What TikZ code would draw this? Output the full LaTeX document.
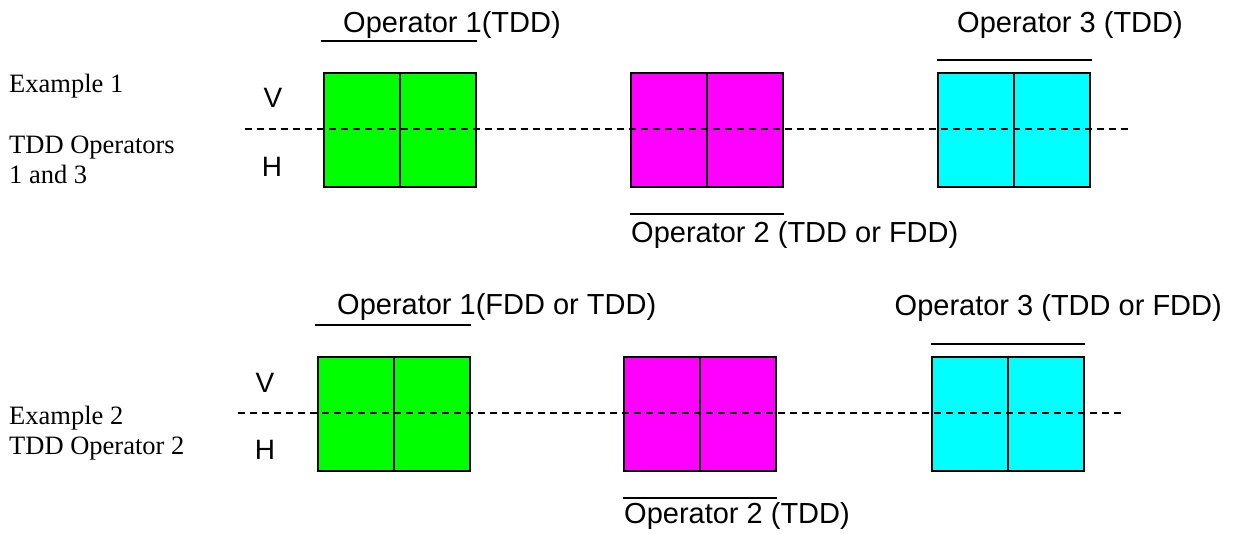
\documentclass[tikz,border=0pt]{standalone}
\usepackage{fontspec}
\setmainfont{Liberation Serif}
\newfontfamily\arialf{Liberation Sans}
\definecolor{opgreen}{RGB}{0,255,0}
\definecolor{opmag}{RGB}{255,0,255}
\definecolor{opcyan}{RGB}{0,255,255}
\begin{document}
\begin{tikzpicture}[x=1pt,y=-1pt,
  opbox/.style={draw=black, line width=2pt, minimum width=152pt, minimum height=114pt, inner sep=0pt},
  lbl/.style={font=\arialf\fontsize{29}{34}\selectfont, inner sep=0pt},
  vh/.style={font=\arialf\fontsize{28}{34}\selectfont, inner sep=0pt, anchor=base},
  side/.style={font=\fontsize{26.5}{30}\selectfont, inner sep=0pt, anchor=base west},
  bar/.style={line width=2pt},
  axisline/.style={line width=1.8pt, dash pattern=on 7pt off 5pt},
  divline/.style={line width=2pt}]
\useasboundingbox (0,0) rectangle (1235,534);

% ---------- Example 1 ----------
\node[side] (ex1) at (9,93) {Example 1};
\node[side] (ex1b) at (9,154) {TDD Operators};
\node[side] (ex1c) at (9,184) {1 and 3};
\node[vh] (v1) at (273,108) {V};
\node[vh] (h1) at (272,177) {H};

\node[opbox, fill=opgreen] (g1) at (400,130) {};
\node[opbox, fill=opmag] (m1) at (707,130) {};
\node[opbox, fill=opcyan] (c1) at (1014,130) {};

\coordinate (a1) at (245,129);
\coordinate (b1) at (1131,129);
\draw[axisline] (a1) -- (b1);
\foreach \n in {g1,m1,c1} \draw[divline] (\n.north) -- (\n.south);

\draw[bar] ([xshift=-2pt,yshift=31pt]g1.north west) -- ([yshift=31pt]g1.north east);
\draw[bar] ([yshift=12pt]c1.north west) -- ([xshift=1pt,yshift=12pt]c1.north east);
\draw[bar] ([yshift=-26pt]m1.south west) -- ([yshift=-26pt]m1.south east);

\node[lbl, anchor=base west] (op1a) at (343,33) {Operator 1(TDD)};
\node[lbl, anchor=base west] (op3a) at (957,33) {Operator 3 (TDD)};
\node[lbl, anchor=base west] (op2a) at (631,243) {Operator 2 (TDD or FDD)};

% ---------- Example 2 ----------
\node[side] (ex2) at (9,425) {Example 2};
\node[side] (ex2b) at (9,455) {TDD Operator 2};
\node[vh] (v2) at (265,393) {V};
\node[vh] (h2) at (265,460) {H};

\node[opbox, fill=opgreen] (g2) at (393.5,414) {};
\node[opbox, fill=opmag] (m2) at (700,414) {};
\node[opbox, fill=opcyan] (c2) at (1008,414) {};

\coordinate (a2) at (238,413);
\coordinate (b2) at (1123,413);
\draw[axisline] (a2) -- (b2);
\foreach \n in {g2,m2,c2} \draw[divline] (\n.north) -- (\n.south);

\draw[bar] ([xshift=-2pt,yshift=31pt]g2.north west) -- ([yshift=31pt]g2.north east);
\draw[bar] ([yshift=12pt]c2.north west) -- ([yshift=12pt]c2.north east);
\draw[bar] ([yshift=-26pt]m2.south west) -- ([yshift=-26pt]m2.south east);

\node[lbl, anchor=base west] (op1b) at (337,315) {Operator 1(FDD or TDD)};
\node[lbl, anchor=base east] (op3b) at (1222,316) {Operator 3 (TDD or FDD)};
\node[lbl, anchor=base west] (op2b) at (624,523) {Operator 2 (TDD)};
\end{tikzpicture}
\end{document}
